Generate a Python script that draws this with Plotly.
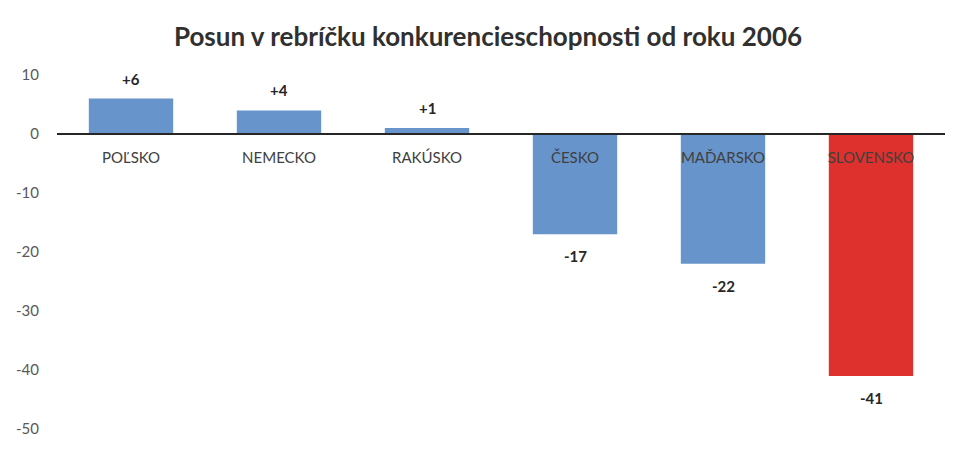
import plotly.graph_objects as go

categories = ["POĽSKO", "NEMECKO", "RAKÚSKO", "ČESKO", "MAĎARSKO", "SLOVENSKO"]
values = [6, 4, 1, -17, -22, -41]
value_labels = ["+6", "+4", "+1", "-17", "-22", "-41"]
colors = ["#6794CB", "#6794CB", "#6794CB", "#6794CB", "#6794CB", "#DE302C"]
y_ticks = [10, 0, -10, -20, -30, -40, -50]
y_tick_text = ["10", "0", "-10", "-20", "-30", "-40", "-50"]

FONT = "Lato, Open Sans, sans-serif"

fig = go.Figure()
fig.add_trace(go.Bar(
    x=categories, y=values, marker=dict(color=colors, line=dict(width=0)),
    width=0.57, showlegend=False, hoverinfo="skip",
))

annotations = []
for c, v, t in zip(categories, values, value_labels):
    annotations.append(dict(
        x=c, y=v, text="<b>" + t + "</b>", showarrow=False, xref="x", yref="y",
        yanchor="bottom" if v >= 0 else "top",
        yshift=9 if v >= 0 else -11,
        font=dict(family=FONT, size=15, color="#262626"),
    ))

fig.update_layout(
    width=960, height=445,
    margin=dict(l=49, r=23, t=67, b=24),
    paper_bgcolor="white", plot_bgcolor="white",
    title=dict(text="<b>Posun v rebríčku konkurencieschopnosti od roku 2006</b>",
               x=0.5, xanchor="center", y=1 - 29 / 445, yanchor="middle",
               font=dict(family=FONT, size=26, color="#303030")),
    xaxis=dict(anchor="free", position=50 / 60, showline=True, linecolor="#262626",
               linewidth=2, ticks="", showgrid=False, zeroline=False,
               ticklabelstandoff=10, automargin=False,
               tickfont=dict(family=FONT, size=15, color="#404040"),
               range=[-0.5, 5.5]),
    yaxis=dict(range=[-50, 10], tickvals=y_ticks, ticktext=y_tick_text,
               showgrid=False, zeroline=False, showline=False, ticks="",
               ticklabelstandoff=17, automargin=False,
               tickfont=dict(family=FONT, size=15, color="#595959")),
    annotations=annotations,
)

fig.write_html("out.html")
